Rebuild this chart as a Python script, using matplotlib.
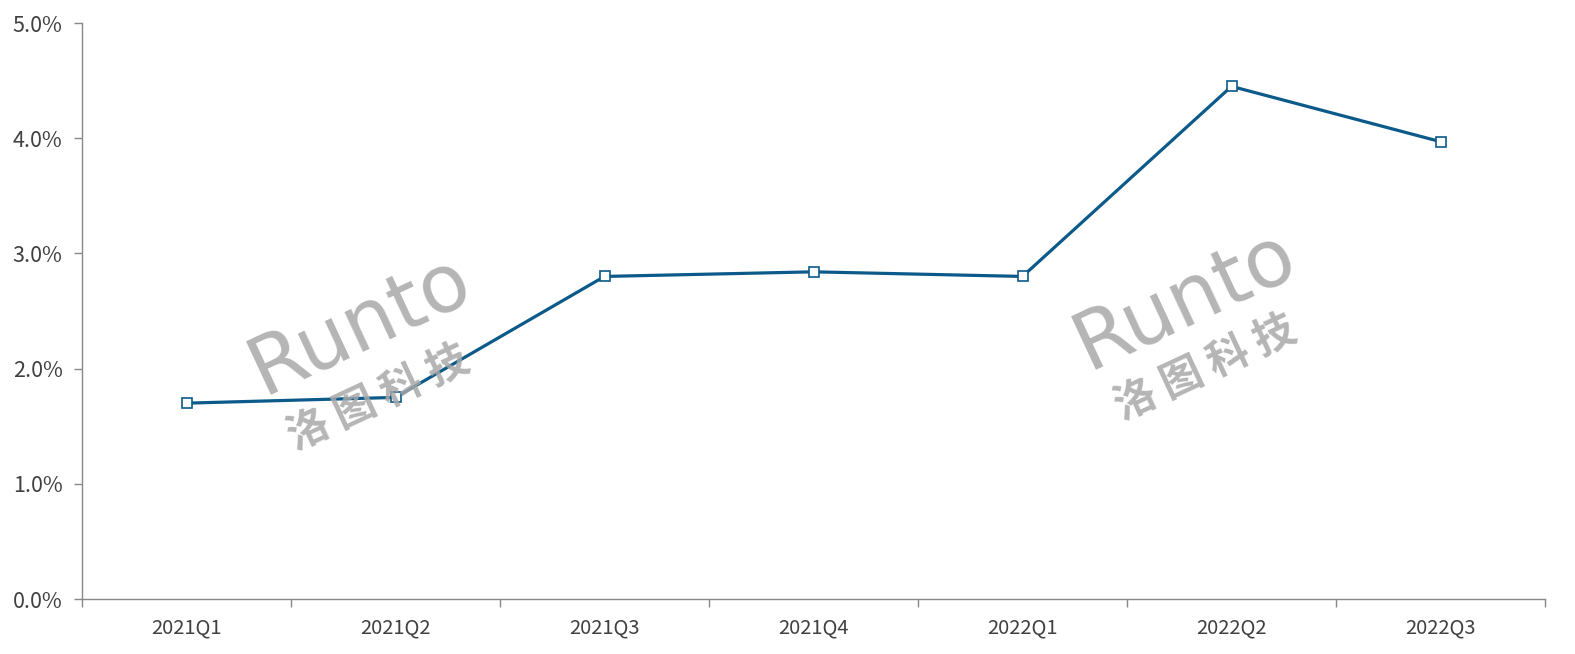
import matplotlib
matplotlib.use("Agg")
import matplotlib.pyplot as plt
from matplotlib.ticker import FuncFormatter, FixedLocator

plt.rcParams['font.family'] = ['Noto Sans CJK SC', 'DejaVu Sans']

categories = ["2021Q1", "2021Q2", "2021Q3", "2021Q4", "2022Q1", "2022Q2", "2022Q3"]
values = [1.70, 1.75, 2.80, 2.84, 2.80, 4.45, 3.97]
y_ticks = [0.0, 1.0, 2.0, 3.0, 4.0, 5.0]

fig = plt.figure(figsize=(15.75, 6.54), dpi=100)
ax = fig.add_axes([82/1575, 1 - 599/654, (1545-82)/1575, (599-23)/654])

x = list(range(len(categories)))
ax.plot(x, values, color="#0B5A8A", lw=2.3, marker="s", markersize=7,
        markerfacecolor="white", markeredgecolor="#0B5A8A", markeredgewidth=1.2, zorder=3)

ax.set_xlim(-0.5, len(categories) - 0.5)
ax.set_ylim(0, 5.0)
ax.set_yticks(y_ticks)
ax.yaxis.set_major_formatter(FuncFormatter(lambda v, p: f"{v:.1f}%"))
ax.set_xticks(x)
ax.set_xticklabels(categories)
ax.xaxis.set_minor_locator(FixedLocator([i - 0.5 for i in range(len(categories) + 1)]))
ax.tick_params(axis="x", which="major", length=0, pad=13, labelsize=14.5, colors="#404040")
ax.tick_params(axis="x", which="minor", length=6, color="#888888", width=1)
ax.tick_params(axis="y", length=6, color="#888888", width=1, labelsize=15.5, labelcolor="#404040", pad=8)

for s in ["top", "right"]:
    ax.spines[s].set_visible(False)
for s in ["left", "bottom"]:
    ax.spines[s].set_color("#888888")
    ax.spines[s].set_linewidth(1)

wm = dict(color="#A8A8A8", alpha=0.85, rotation=25, ha="center", va="center",
          zorder=5, transform=fig.transFigure)
for cx, cy, cx2, cy2 in [(360, 325, 378, 398), (1185, 300, 1205, 368)]:
    fig.text(cx/1575, 1 - cy/654, "Runto", fontsize=58, family=["DejaVu Sans"], **wm)
    fig.text(cx2/1575, 1 - cy2/654, "洛 图 科 技", fontsize=30, fontweight="bold", **wm)

fig.savefig("out.png", dpi=100)
